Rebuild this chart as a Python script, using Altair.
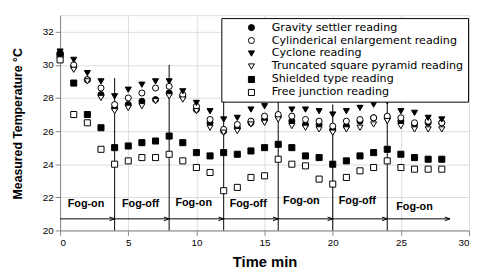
import altair as alt
import pandas as pd

time = list(range(29))
gravity = [30.6, 29.9, 29.1, 28.2, 27.4, 27.6, 27.8, 27.9, 28.3, 28.1, 27.3, 26.5, 26.0, 26.2, 26.5,
           26.7, 26.9, 26.6, 26.4, 26.4, 26.1, 26.3, 26.6, 26.8, 26.8, 26.6, 26.4, 26.5, 26.5]
cylindrical = [30.7, 30.0, 29.1, 28.6, 27.6, 28.0, 28.3, 28.6, 28.7, 28.2, 27.5, 26.7, 26.1, 26.4, 26.6,
               26.9, 27.0, 26.9, 26.7, 26.6, 26.3, 26.6, 26.7, 26.8, 26.9, 26.8, 26.5, 26.6, 26.5]
cyclone = [30.8, 30.3, 29.5, 29.0, 28.1, 28.5, 28.8, 29.0, 29.0, 28.4, 27.7, 27.2, 26.7, 26.8, 27.3,
           27.5, 27.9, 27.3, 27.3, 27.2, 27.0, 27.2, 27.4, 27.6, 27.8, 27.2, 27.1, 26.8, 26.7]
truncated = [30.5, 29.7, 29.0, 28.0, 27.2, 27.4, 27.5, 27.8, 28.1, 27.9, 27.2, 26.2, 25.9, 26.0, 26.4,
             26.5, 26.7, 26.3, 26.2, 26.1, 25.9, 26.1, 26.2, 26.4, 26.6, 26.3, 26.1, 26.1, 26.1]
shielded = [30.6, 28.9, 27.0, 26.2, 25.0, 25.1, 25.3, 25.4, 25.7, 25.3, 24.7, 24.5, 24.7, 24.6, 24.8,
            25.0, 25.2, 25.0, 24.5, 24.4, 24.0, 24.2, 24.5, 24.7, 24.9, 24.6, 24.4, 24.3, 24.3]
free = [30.3, 27.0, 26.5, 24.9, 24.0, 24.2, 24.4, 24.4, 24.6, 24.2, 23.8, 23.5, 22.4, 22.6, 23.2,
        23.3, 24.3, 24.0, 23.9, 23.1, 22.8, 23.2, 23.6, 23.8, 24.2, 23.8, 23.7, 23.7, 23.7]

series_names = ["Gravity settler reading", "Cylinderical enlargement reading", "Cyclone reading",
                "Truncated square pyramid reading", "Shielded type reading", "Free junction reading"]
series_values = [gravity, cylindrical, cyclone, truncated, shielded, free]
series_shapes = ["circle", "circle", "triangle-down", "triangle-down", "square", "square"]
series_fills = ["black", "white", "black", "white", "black", "white"]

x_ticks = [0, 5, 10, 15, 20, 25, 30]
y_ticks = [20, 22, 24, 26, 28, 30, 32]

# phase boundaries and annotations
boundaries = [4, 8, 12, 16, 20, 24]
boundary_tops = [29.2, 30.0, 28.6, 28.2, 27.6, 28.1]
arrow_start = [0, 4, 8, 12, 16, 20, 24]
arrow_end = [4, 8, 12, 16, 20, 24, 28.6]
arrow_y = 20.7
phase_labels = ["Fog-on", "Fog-off", "Fog-on", "Fog-off", "Fog-on", "Fog-off", "Fog-on"]
phase_label_x = [1.9, 5.9, 9.8, 13.8, 17.7, 21.8, 26.0]
phase_label_y = [21.6, 21.6, 21.65, 21.6, 21.8, 21.8, 21.4]

FONT = "Liberation Sans"

rows = []
for name, vals in zip(series_names, series_values):
    for t, v in zip(time, vals):
        rows.append({"series": name, "time": t, "temp": v})
df = pd.DataFrame(rows)

xs = alt.Scale(domain=[0, 30], nice=False, zero=False)
ys = alt.Scale(domain=[20, 33], nice=False, zero=False)
x_axis = alt.Axis(title="Time  min", values=x_ticks, titleFontSize=15, titleFontWeight="bold",
                  titleX=208, titleY=32, titleBaseline="middle", titleFont=FONT, labelOverlap=False)
y_axis = alt.Axis(title="Measured Temperature °C", values=y_ticks, titleFontSize=12.5,
                  titleFontWeight="bold", titleX=-43, titleY=110, titleAngle=-90, titleAlign="center",
                  titleBaseline="middle", titleFont=FONT, labelOverlap=False)


def X(field):
    return alt.X(field, scale=xs, axis=x_axis)


def Y(field):
    return alt.Y(field, scale=ys, axis=y_axis)


points = alt.Chart(df).mark_point(filled=False, stroke="black", strokeWidth=1, size=38, opacity=1).encode(
    x=X("time:Q"),
    y=Y("temp:Q"),
    shape=alt.Shape("series:N", scale=alt.Scale(domain=series_names, range=series_shapes),
                    legend=alt.Legend(title=None, orient="none", legendX=164, legendY=3,
                                      strokeColor="black", fillColor="white", padding=4,
                                      labelFontSize=11.3, labelFont="DejaVu Sans", labelColor="black",
                                      labelLimit=400, symbolOffset=21, labelOffset=15, rowPadding=1.2,
                                      symbolSize=38, symbolStrokeColor="black", symbolStrokeWidth=1)),
    fill=alt.Fill("series:N", scale=alt.Scale(domain=series_names, range=series_fills)),
    stroke=alt.Stroke("series:N", scale=alt.Scale(domain=series_names, range=["black"] * 6)),
)

vdf = pd.DataFrame({"x": boundaries, "y0": [20] * len(boundaries), "y1": boundary_tops})
vlines = alt.Chart(vdf).mark_rule(color="black", strokeWidth=1).encode(
    x=X("x:Q"), y=Y("y0:Q"), y2="y1:Q")

adf = pd.DataFrame({"x0": arrow_start, "x1": arrow_end, "y": [arrow_y] * len(arrow_start)})
hlines = alt.Chart(adf).mark_rule(color="black", strokeWidth=1).encode(
    x=X("x0:Q"), x2="x1:Q", y=Y("y:Q"))
heads = alt.Chart(adf).mark_point(shape="M-1,-0.35L0,0L-1,0.35", filled=False, stroke="black",
                                  strokeWidth=1, size=110, opacity=1).encode(
    x=X("x1:Q"), y=Y("y:Q"))

tdf = pd.DataFrame({"label": phase_labels, "x": phase_label_x, "y": phase_label_y})
texts = alt.Chart(tdf).mark_text(font=FONT, fontSize=11, fontWeight="bold", color="black").encode(
    x=X("x:Q"), y=Y("y:Q"), text="label:N")

chart = alt.layer(vlines, hlines, heads, texts, points).properties(
    width=416, height=219,
    autosize=alt.AutoSizeParams(type="none"),
    padding={"left": 53, "top": 5, "right": 3, "bottom": 40},
).configure_view(stroke="black", strokeWidth=1).configure_axis(
    grid=False, domainColor="black", tickColor="black", tickSize=5, labelFontSize=10,
    labelFont=FONT, labelColor="#333", titleColor="black", labelPadding=3,
).configure(background="white")

chart.save("out.html", embed_options={"renderer": "svg", "actions": False})
